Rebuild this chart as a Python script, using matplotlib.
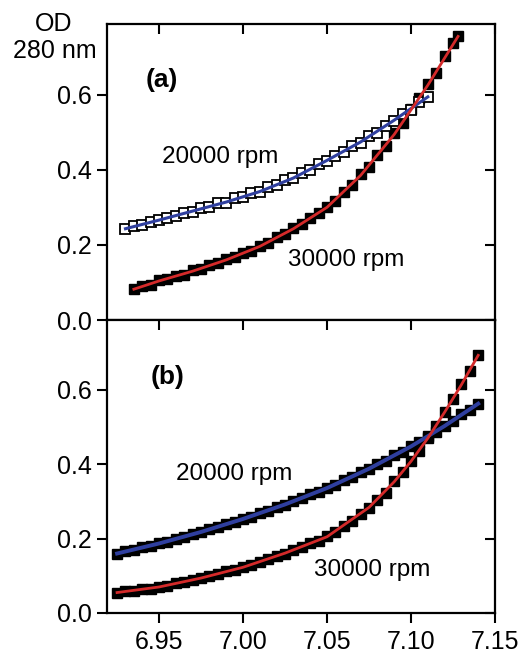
import matplotlib
matplotlib.use("Agg")
import matplotlib.pyplot as plt

plt.rcParams['font.family'] = ['Liberation Sans', 'DejaVu Sans']

# ---------------- data ----------------
# panel (a) 20000 rpm
a20_x = [6.930, 6.935, 6.940, 6.945, 6.950, 6.955, 6.960, 6.965, 6.970, 6.975,
         6.980, 6.985, 6.990, 6.995, 7.000, 7.005, 7.010, 7.015, 7.020, 7.025,
         7.030, 7.035, 7.040, 7.045, 7.050, 7.055, 7.060, 7.065, 7.070, 7.075,
         7.080, 7.085, 7.090, 7.095, 7.100, 7.105, 7.110]
a20_y = [0.243, 0.250, 0.253, 0.260, 0.265, 0.272, 0.276, 0.285, 0.288, 0.298,
         0.300, 0.311, 0.312, 0.324, 0.327, 0.338, 0.341, 0.354, 0.360, 0.374,
         0.377, 0.392, 0.398, 0.414, 0.423, 0.437, 0.446, 0.462, 0.472, 0.490,
         0.498, 0.516, 0.530, 0.548, 0.560, 0.580, 0.594]
# panel (a) 30000 rpm
a30_x = [6.935, 6.940, 6.945, 6.950, 6.955, 6.960, 6.965, 6.970, 6.975, 6.980,
         6.985, 6.990, 6.995, 7.000, 7.005, 7.010, 7.015, 7.020, 7.025, 7.030,
         7.035, 7.040, 7.045, 7.050, 7.055, 7.060, 7.065, 7.070, 7.075, 7.080,
         7.085, 7.090, 7.095, 7.100, 7.105, 7.110, 7.115, 7.120, 7.125, 7.128]
a30_y = [0.082, 0.090, 0.094, 0.106, 0.109, 0.118, 0.121, 0.132, 0.136, 0.147,
         0.151, 0.162, 0.167, 0.179, 0.185, 0.198, 0.206, 0.220, 0.229, 0.245,
         0.255, 0.272, 0.284, 0.302, 0.317, 0.342, 0.360, 0.388, 0.408, 0.438,
         0.462, 0.497, 0.524, 0.562, 0.590, 0.628, 0.658, 0.703, 0.738, 0.755]
# fits, panel (a)
fa20_x = [6.930, 6.950, 6.970, 6.990, 7.010, 7.030, 7.050, 7.070, 7.090, 7.110]
fa20_y = [0.243, 0.266, 0.290, 0.314, 0.342, 0.378, 0.425, 0.474, 0.532, 0.594]
fa30_x = [6.935, 6.950, 6.970, 6.990, 7.010, 7.030, 7.050, 7.070, 7.090, 7.110, 7.128]
fa30_y = [0.082, 0.104, 0.130, 0.160, 0.196, 0.243, 0.300, 0.385, 0.494, 0.625, 0.755]

# panel (b) 20000 rpm
b20_x = [6.925, 6.930, 6.935, 6.940, 6.945, 6.950, 6.955, 6.960, 6.965, 6.970,
         6.975, 6.980, 6.985, 6.990, 6.995, 7.000, 7.005, 7.010, 7.015, 7.020,
         7.025, 7.030, 7.035, 7.040, 7.045, 7.050, 7.055, 7.060, 7.065, 7.070,
         7.075, 7.080, 7.085, 7.090, 7.095, 7.100, 7.105, 7.110, 7.115, 7.120,
         7.125, 7.130, 7.135, 7.140]
b20_y = [0.158, 0.166, 0.169, 0.177, 0.180, 0.188, 0.192, 0.200, 0.204, 0.213,
         0.217, 0.226, 0.231, 0.239, 0.245, 0.254, 0.259, 0.269, 0.275, 0.285,
         0.291, 0.301, 0.308, 0.319, 0.326, 0.337, 0.345, 0.357, 0.365, 0.378,
         0.387, 0.400, 0.410, 0.424, 0.434, 0.449, 0.460, 0.476, 0.488, 0.504,
         0.517, 0.534, 0.547, 0.563]
# panel (b) 30000 rpm
b30_x = [6.925, 6.930, 6.935, 6.940, 6.945, 6.950, 6.955, 6.960, 6.965, 6.970,
         6.975, 6.980, 6.985, 6.990, 6.995, 7.000, 7.005, 7.010, 7.015, 7.020,
         7.025, 7.030, 7.035, 7.040, 7.045, 7.050, 7.055, 7.060, 7.065, 7.070,
         7.075, 7.080, 7.085, 7.090, 7.095, 7.100, 7.105, 7.110, 7.115, 7.120,
         7.125, 7.130, 7.135, 7.140]
b30_y = [0.054, 0.058, 0.059, 0.064, 0.065, 0.071, 0.073, 0.080, 0.083, 0.090,
         0.093, 0.100, 0.104, 0.112, 0.116, 0.124, 0.129, 0.138, 0.144, 0.154,
         0.160, 0.170, 0.177, 0.188, 0.194, 0.206, 0.217, 0.234, 0.248, 0.267,
         0.283, 0.304, 0.323, 0.354, 0.379, 0.409, 0.437, 0.471, 0.503, 0.541,
         0.575, 0.615, 0.652, 0.693]
# fits, panel (b)
fb20_x = [6.925, 6.950, 6.975, 7.000, 7.025, 7.050, 7.075, 7.100, 7.120, 7.140]
fb20_y = [0.160, 0.187, 0.218, 0.253, 0.292, 0.336, 0.388, 0.448, 0.503, 0.563]
fb30_x = [6.925, 6.950, 6.975, 7.000, 7.025, 7.050, 7.075, 7.090, 7.100, 7.110, 7.120, 7.130, 7.140]
fb30_y = [0.055, 0.070, 0.094, 0.123, 0.161, 0.205, 0.284, 0.353, 0.408, 0.470, 0.540, 0.614, 0.693]

xticks = [6.95, 7.00, 7.05, 7.10, 7.15]
yticks = [0.0, 0.2, 0.4, 0.6]

BLUE = '#2f3f9f'
RED = '#d42a2a'

fig = plt.figure(figsize=(5.22, 6.54), dpi=100)
L, R = 107/522, 495/522
axa = fig.add_axes([L, 1-320/654, R-L, (320-24)/654])
axb = fig.add_axes([L, 1-613/654, R-L, (613-320)/654])

FS = 18

def style(ax, show_x):
    ax.set_xlim(6.919, 7.15)
    ax.set_ylim(0, 0.788)
    ax.set_xticks(xticks)
    ax.set_yticks(yticks)
    ax.set_yticklabels([f"{v:.1f}" for v in yticks])
    if show_x:
        ax.set_xticklabels([f"{v:.2f}" for v in xticks])
    else:
        ax.set_xticklabels([])
    ax.tick_params(axis='both', which='major', length=7, width=1.5, labelsize=FS, color='black')
    ax.tick_params(axis='y', left=True, right=True, direction='out', pad=4)
    ax.tick_params(axis='x', bottom=True, top=True, direction='out', pad=5)
    for t in ax.yaxis.get_major_ticks():
        t.tick2line.set_marker(matplotlib.lines.TICKLEFT)
    for t in ax.xaxis.get_major_ticks():
        t.tick2line.set_marker(matplotlib.lines.TICKDOWN)
    for s in ax.spines.values():
        s.set_linewidth(1.6)

style(axa, False)
style(axb, True)

ms = 6.5
axa.plot(a30_x, a30_y, 's', ms=ms, mfc='black', mec='black', mew=1.0, zorder=2)
axa.plot(a20_x, a20_y, 's', ms=ms, mfc='white', mec='black', mew=1.3, zorder=2)
axa.plot(fa20_x, fa20_y, '-', color=BLUE, lw=2.2, zorder=3)
axa.plot(fa30_x, fa30_y, '-', color=RED, lw=2.0, zorder=3)

axb.plot(b20_x, b20_y, 's', ms=7.5, mfc='black', mec='black', zorder=2)
axb.plot(b30_x, b30_y, 's', ms=7.5, mfc='black', mec='black', zorder=2)
axb.plot(fb20_x, fb20_y, '-', color=BLUE, lw=2.8, zorder=3)
axb.plot(fb30_x, fb30_y, '-', color=RED, lw=2.0, zorder=3)

TS = 17.5
axa.text(6.942, 0.64, '(a)', fontsize=FS + 1, fontweight='bold', va='center', ha='left')
axa.text(6.952, 0.435, '20000 rpm', fontsize=TS, va='center', ha='left')
axa.text(7.027, 0.16, '30000 rpm', fontsize=TS, va='center', ha='left')
axb.text(6.945, 0.635, '(b)', fontsize=FS + 1, fontweight='bold', va='center', ha='left')
axb.text(6.960, 0.373, '20000 rpm', fontsize=TS, va='center', ha='left')
axb.text(7.042, 0.115, '30000 rpm', fontsize=TS, va='center', ha='left')

fig.text(54/522, 1-24/654, 'OD', fontsize=FS, ha='center', va='center')
fig.text(55/522, 1-51/654, '280 nm', fontsize=FS, ha='center', va='center')

fig.savefig('out.png', dpi=100)
